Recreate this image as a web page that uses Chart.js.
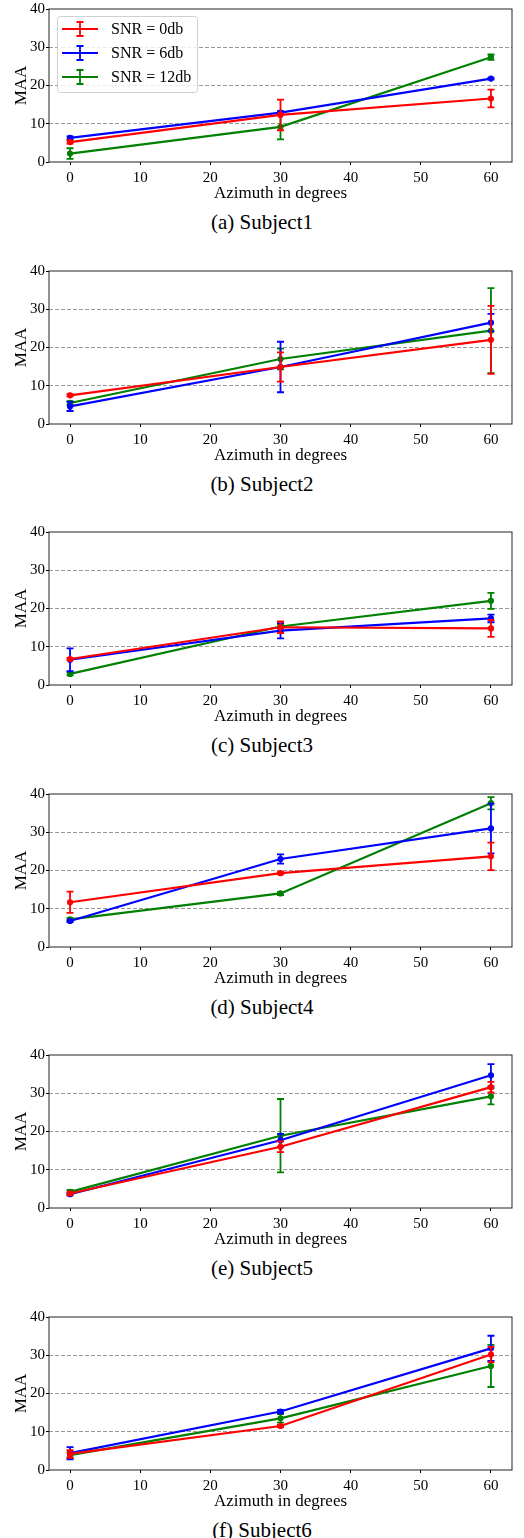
<!DOCTYPE html>
<html>
<head>
<meta charset="utf-8">
<script src="https://cdn.jsdelivr.net/npm/chart.js@4.4.1/dist/chart.umd.min.js"></script>
<style>
  body { margin: 0; background: #fff; width: 524px; height: 1538px; position: relative; overflow: hidden; }
  .panel { position: absolute; left: 0; width: 524px; height: 204px; }
  .caption { position: absolute; left: 0; width: 524px; text-align: center; font: 21px "Liberation Serif", serif; line-height: 24px; color: #000; }
</style>
</head>
<body>
<script>
// azimuth (degrees) where MAA was measured
var azimuths = [0, 30, 60];
var xTicks = [0, 10, 20, 30, 40, 50, 60];
var yTicks = [0, 10, 20, 30, 40];
var snrLabels = ['SNR = 0db', 'SNR = 6db', 'SNR = 12db'];
var snrColors = ['rgb(255,0,0)', 'rgb(0,0,255)', 'rgb(0,128,0)'];
var subjects = ['(a) Subject1', '(b) Subject2', '(c) Subject3', '(d) Subject4', '(e) Subject5', '(f) Subject6'];

// mean MAA, one row per subject
var maa0db = [[5.2, 12.3, 16.6], [7.5, 14.9, 22.0], [6.8, 15.1, 14.8], [11.7, 19.3, 23.7], [3.8, 16.0, 31.6], [4.2, 11.5, 30.2]];
var maa6db = [[6.3, 12.9, 21.8], [4.6, 14.9, 26.5], [6.6, 14.2, 17.4], [6.8, 23.0, 31.0], [3.6, 17.7, 34.7], [4.4, 15.3, 31.8]];
var maa12db = [[2.2, 9.2, 27.4], [5.5, 17.0, 24.4], [2.9, 15.3, 22.0], [7.2, 14.0, 37.6], [4.2, 18.9, 29.2], [3.9, 13.5, 27.2]];

// error bar half-lengths
var err0db = [[0.4, 4.0, 2.3], [0.3, 3.8, 8.9], [0.3, 1.5, 2.2], [2.8, 0.3, 3.6], [0.3, 1.4, 1.4], [1.0, 0.3, 2.0]];
var err6db = [[0.4, 0.4, 0.2], [1.2, 6.6, 2.3], [3.0, 2.0, 1.0], [0.3, 1.2, 6.5], [0.3, 1.7, 2.9], [1.6, 0.4, 3.3]];
var err12db = [[1.4, 3.3, 0.7], [0.5, 2.7, 11.1], [0.4, 0.5, 2.1], [0.4, 0.4, 1.6], [0.5, 9.6, 2.1], [0.7, 1.1, 5.5]];

var FONT = '"Liberation Serif", serif';

var errorBars = {
  id: 'errorBars',
  afterDatasetDraw: function (chart, args) {
    var ds = chart.data.datasets[args.index];
    var ctx = chart.ctx, xs = chart.scales.x, ys = chart.scales.y;
    ctx.save();
    ctx.strokeStyle = ds.borderColor;
    ctx.lineWidth = 1.8;
    ds.data.forEach(function (p, j) {
      var px = xs.getPixelForValue(p.x);
      var top = ys.getPixelForValue(p.y + ds.errors[j]);
      var bot = ys.getPixelForValue(p.y - ds.errors[j]);
      ctx.beginPath();
      ctx.moveTo(px, top); ctx.lineTo(px, bot);
      ctx.moveTo(px - 3.5, top); ctx.lineTo(px + 3.5, top);
      ctx.moveTo(px - 3.5, bot); ctx.lineTo(px + 3.5, bot);
      ctx.stroke();
    });
    ctx.restore();
  }
};

var frame = {
  id: 'frame',
  afterDraw: function (chart) {
    var a = chart.chartArea, ctx = chart.ctx;
    ctx.save();
    ctx.strokeStyle = '#222';
    ctx.lineWidth = 1;
    ctx.strokeRect(a.left, a.top, a.right - a.left, a.bottom - a.top);
    ctx.restore();
  }
};

var boxLegend = {
  id: 'boxLegend',
  afterDraw: function (chart, args, opts) {
    if (!opts.show) return;
    var ctx = chart.ctx, a = chart.chartArea;
    var x0 = a.left + 8, y0 = a.top + 7, w = 140, h = 76;
    ctx.save();
    ctx.fillStyle = 'rgba(255,255,255,0.8)';
    ctx.strokeStyle = '#d0d0d0';
    ctx.lineWidth = 1;
    ctx.beginPath();
    ctx.roundRect(x0 + 0.5, y0 + 0.5, w, h, 3);
    ctx.fill();
    ctx.stroke();
    chart.data.datasets.forEach(function (ds, i) {
      var cy = y0 + 13 + i * 24;
      ctx.strokeStyle = ds.borderColor;
      ctx.lineWidth = 2.2;
      ctx.beginPath();
      ctx.moveTo(x0 + 5, cy); ctx.lineTo(x0 + 41, cy);
      ctx.stroke();
      ctx.lineWidth = 1.8;
      ctx.beginPath();
      ctx.moveTo(x0 + 23, cy - 7); ctx.lineTo(x0 + 23, cy + 7);
      ctx.moveTo(x0 + 19.5, cy - 7); ctx.lineTo(x0 + 26.5, cy - 7);
      ctx.moveTo(x0 + 19.5, cy + 7); ctx.lineTo(x0 + 26.5, cy + 7);
      ctx.stroke();
      ctx.fillStyle = '#000';
      ctx.font = '16px ' + FONT;
      ctx.textBaseline = 'middle';
      ctx.fillText(ds.label, x0 + 54, cy + 1);
    });
    ctx.restore();
  }
};

var series = [
  { maa: maa0db, err: err0db },
  { maa: maa6db, err: err6db },
  { maa: maa12db, err: err12db }
];

subjects.forEach(function (name, s) {
  var top = Math.round(261.5 * s);
  var panel = document.createElement('div');
  panel.className = 'panel';
  panel.style.top = top + 'px';
  var canvas = document.createElement('canvas');
  canvas.width = 524;
  canvas.height = 204;
  panel.appendChild(canvas);
  document.body.appendChild(panel);

  var cap = document.createElement('div');
  cap.className = 'caption';
  cap.style.top = (top + 210) + 'px';
  cap.textContent = name;
  document.body.appendChild(cap);

  var datasets = series.map(function (sr, k) {
    return {
      label: snrLabels[k],
      data: azimuths.map(function (az, j) { return { x: az, y: sr.maa[s][j] }; }),
      errors: sr.err[s],
      borderColor: snrColors[k],
      backgroundColor: snrColors[k],
      borderWidth: 2.2,
      pointRadius: 2,
      pointHoverRadius: 2,
      tension: 0,
      fill: false
    };
  });

  new Chart(canvas, {
    type: 'line',
    data: { datasets: datasets },
    options: {
      responsive: false,
      animation: false,
      events: [],
      layout: { padding: { top: 9, right: 12, left: 0, bottom: 0 } },
      plugins: {
        legend: { display: false },
        tooltip: { enabled: false },
        boxLegend: { show: s === 0 }
      },
      scales: {
        x: {
          type: 'linear',
          min: -3,
          max: 63,
          afterBuildTicks: function (sc) { sc.ticks = xTicks.map(function (v) { return { value: v }; }); },
          afterFit: function (sc) { sc.height = 42; sc.paddingLeft = 0; sc.paddingRight = 0; },
          grid: { drawOnChartArea: false, drawTicks: true, tickLength: 3, tickColor: '#000', lineWidth: 1 },
          border: { display: false },
          ticks: { color: '#000', font: { family: FONT, size: 15 }, padding: 4, maxRotation: 0 },
          title: { display: true, text: 'Azimuth in degrees', color: '#000', font: { family: FONT, size: 17 }, padding: { top: 0, bottom: 0 } }
        },
        y: {
          type: 'linear',
          min: 0,
          max: 40,
          afterBuildTicks: function (sc) { sc.ticks = yTicks.map(function (v) { return { value: v }; }); },
          afterFit: function (sc) { sc.width = 49; sc.paddingTop = 0; sc.paddingBottom = 0; },
          grid: {
            color: function (c) { return (c.tick && c.tick.value > 0 && c.tick.value < 40) ? '#999' : 'rgba(0,0,0,0)'; },
            tickColor: '#000',
            tickLength: 3,
            tickBorderDash: [],
            lineWidth: 1
          },
          border: { display: false, dash: [4, 2] },
          ticks: { color: '#000', font: { family: FONT, size: 15 }, padding: 1 },
          title: { display: true, text: 'MAA', color: '#000', font: { family: FONT, size: 17 }, padding: { top: 11, bottom: 0 } }
        }
      }
    },
    plugins: [errorBars, frame, boxLegend]
  });
});
</script>
</body>
</html>
